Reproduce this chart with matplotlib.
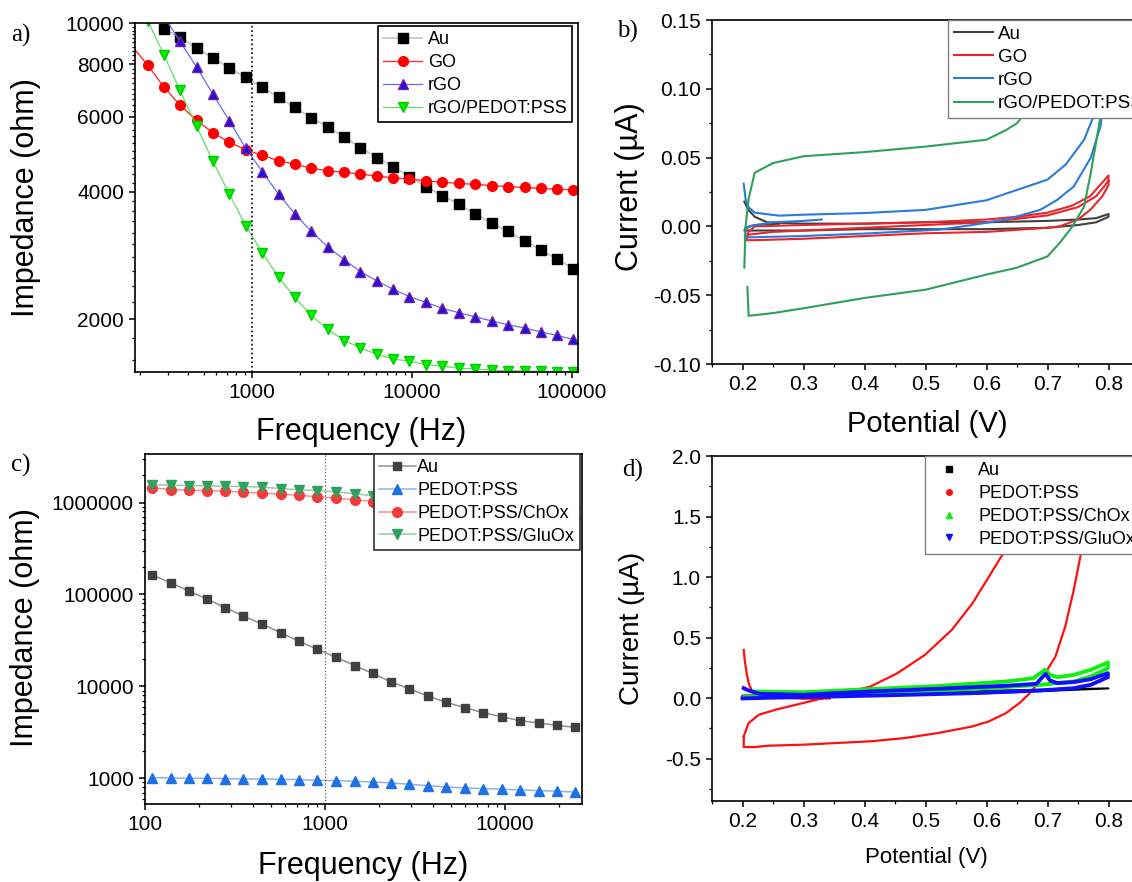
import numpy as np
import matplotlib
matplotlib.use('Agg')
import matplotlib.pyplot as plt
from matplotlib.ticker import FixedLocator, FuncFormatter, MultipleLocator, NullFormatter, LogLocator
from matplotlib.lines import Line2D

plt.rcParams['font.family'] = ['Liberation Sans', 'DejaVu Sans']
plt.rcParams['axes.unicode_minus'] = False

# ---------------- data, panel a (impedance) ----------------
freq_a = [165, 224, 282, 355, 452, 570, 722, 915, 1160, 1470, 1855, 2350, 2985, 3780,
          4760, 6050, 7660, 9640, 12250, 15500, 19630, 24800, 31500, 39900, 50500,
          63700, 80900, 102000]
au_a = [9680, 9250, 8730, 8270, 7830, 7440, 7050, 6670, 6320, 5970, 5680, 5380, 5080,
        4810, 4580, 4340, 4110, 3910, 3740, 3540, 3370, 3220, 3060, 2910, 2770, 2630]
go_a = [9140, 7940, 7060, 6400, 5890, 5510, 5230, 5020, 4870, 4730, 4640, 4540, 4480,
        4440, 4400, 4350, 4310, 4280, 4240, 4210, 4180, 4160, 4130, 4110, 4090, 4070,
        4050, 4040]
rgo_a = [10380, 9050, 7860, 6800, 5880, 5060, 4460, 3940, 3540, 3220, 2960, 2760, 2590,
         2460, 2350, 2260, 2190, 2120, 2070, 2025, 1980, 1940, 1905, 1866, 1830, 1790]
rgo_pedot_a = [10100, 8420, 6930, 5700, 4720, 3950, 3320, 2870, 2510, 2250, 2040, 1890,
               1780, 1710, 1650, 1610, 1590, 1560, 1550, 1530, 1525, 1515, 1510, 1508,
               1505, 1503, 1502]

# ---------------- data, panel b (CV) ----------------
au_b_v = [0.203, 0.21, 0.22, 0.24, 0.3, 0.4, 0.5, 0.6, 0.7, 0.75, 0.78, 0.8,
          0.8, 0.78, 0.75, 0.7, 0.6, 0.5, 0.4, 0.3, 0.25, 0.21, 0.203, 0.205, 0.22, 0.26]
au_b_i = [0.018, 0.012, 0.007, 0.003, 0.002, 0.002, 0.003, 0.003, 0.004, 0.005, 0.006, 0.009,
          0.007, 0.003, 0.001, -0.001, -0.002, -0.002, -0.002, -0.003, -0.003, -0.003,
          -0.003, -0.001, 0.001, 0.002]
go_b_v = [0.205, 0.21, 0.22, 0.3, 0.4, 0.5, 0.6, 0.65, 0.7, 0.74, 0.77, 0.8,
          0.8, 0.79, 0.77, 0.75, 0.72, 0.7, 0.6, 0.5, 0.4, 0.3, 0.22, 0.205,
          0.21, 0.25, 0.4, 0.5, 0.6, 0.7, 0.75, 0.78, 0.8]
go_b_i = [-0.01, -0.004, 0.0, 0.001, 0.002, 0.003, 0.005, 0.007, 0.01, 0.015, 0.022, 0.037,
          0.03, 0.022, 0.012, 0.005, 0.0, -0.001, -0.004, -0.005, -0.007, -0.009, -0.01, -0.01,
          -0.006, -0.004, -0.001, 0.001, 0.003, 0.008, 0.014, 0.022, 0.033]
rgo_b_v = [0.202, 0.205, 0.21, 0.22, 0.26, 0.3, 0.4, 0.5, 0.6, 0.7, 0.73, 0.76, 0.78,
           0.79, 0.8, 0.8, 0.795, 0.787, 0.771, 0.743, 0.715, 0.688, 0.632, 0.577, 0.521,
           0.41, 0.3, 0.204, 0.205, 0.21, 0.25, 0.3, 0.33]
rgo_b_i = [0.031, 0.02, 0.014, 0.01, 0.0078, 0.0085, 0.0097, 0.012, 0.019, 0.034, 0.045,
           0.063, 0.085, 0.1, 0.125, 0.13, 0.1, 0.073, 0.05, 0.029, 0.019, 0.012, 0.005,
           0.001, -0.0024, -0.005, -0.007, -0.008, -0.003, 0.0, 0.003, 0.004, 0.005]
pedot_b_v = [0.203, 0.205, 0.21, 0.22, 0.25, 0.3, 0.4, 0.5, 0.6, 0.632, 0.65, 0.677,
             0.69, 0.7, 0.75, 0.8, 0.8, 0.797, 0.787, 0.771, 0.76, 0.741, 0.72, 0.7,
             0.65, 0.6, 0.5, 0.4, 0.3, 0.25, 0.21, 0.208]
pedot_b_i = [-0.03, 0.0, 0.02, 0.039, 0.046, 0.051, 0.054, 0.058, 0.063, 0.07, 0.075,
             0.09, 0.098, 0.105, 0.13, 0.17, 0.12, 0.091, 0.08, 0.039, 0.0145, 0.0,
             -0.012, -0.0218, -0.03, -0.035, -0.046, -0.052, -0.0595, -0.063, -0.065, -0.044]

# ---------------- data, panel c (impedance) ----------------
freq_c = [110, 139, 175, 221, 280, 352, 448, 567, 720, 907, 1153, 1466, 1845, 2323,
          2938, 3717, 4722, 5980, 7570, 9570, 12100, 15400, 19400, 24500]
au_c = [162000, 134000, 109000, 89000, 71600, 58200, 47600, 38300, 30800, 25300, 20700,
        16800, 13800, 11200, 9430, 7850, 6700, 5860, 5170, 4680, 4240, 3990, 3770, 3580]
pedot_c = [1017, 1008, 1000, 1000, 992, 983, 983, 975, 967, 950, 943, 927, 912, 890,
           861, 833, 805, 785, 772, 759, 747, 735, 722, 710]
chox_c = [1443000, 1384000, 1362000, 1339000, 1328000, 1295000, 1263000, 1232000,
          1201000, 1152000, 1115000, 1069000, 1025000, 985000, 950000, 915000, 880000,
          850000, 820000, 790000, 765000, 740000, 715000, 690000]
gluox_c = [1569000, 1543000, 1530000, 1518000, 1505000, 1492000, 1468000, 1420000,
           1373000, 1350000, 1306000, 1242000, 1182000, 1140000, 1100000, 1060000,
           1020000, 985000, 950000, 915000, 880000, 850000, 820000, 790000]

# ---------------- data, panel d (CV) ----------------
au_d_v = [0.2, 0.4, 0.6, 0.8, 0.6, 0.4, 0.2]
au_d_i = [0.02, 0.04, 0.06, 0.08, 0.04, 0.03, 0.01]
pedot_d_v = [0.202, 0.204, 0.207, 0.21, 0.216, 0.227, 0.254, 0.299, 0.343,
             None,
             0.202, 0.21, 0.227, 0.254, 0.299, 0.354, 0.41, 0.454, 0.499, 0.543, 0.577,
             0.604, 0.624, 0.635, 0.66, 0.7, 0.75, 0.8, 0.79, 0.775, 0.765, 0.757, 0.743,
             0.729, 0.713, 0.693, 0.671, 0.654, 0.632, 0.604, 0.577, 0.521, 0.466, 0.41,
             0.354, 0.299, 0.243, 0.221, 0.202, 0.202]
pedot_d_i = [0.398, 0.3, 0.2, 0.124, 0.055, 0.027, 0.008, -0.005, -0.003,
             None,
             -0.316, -0.206, -0.137, -0.096, -0.041, 0.027, 0.096, 0.206, 0.357, 0.563,
             0.783, 1.003, 1.168, 1.25, 1.6, 2.3, 3.2, 4.2, 3.0, 2.0, 1.5, 1.25, 0.893,
             0.59, 0.343, 0.179, 0.041, -0.041, -0.124, -0.192, -0.234, -0.288, -0.33,
             -0.357, -0.371, -0.385, -0.393, -0.404, -0.404, -0.316]
chox_d_v = [0.221, 0.299, 0.41, 0.521, 0.632, 0.677, 0.688, 0.696, 0.704, 0.716, 0.743,
            0.771, 0.799, 0.799, 0.771, 0.743, 0.688, 0.577, 0.466, 0.354, 0.243, 0.202]
chox_d_i = [0.055, 0.049, 0.074, 0.10, 0.137, 0.165, 0.206, 0.234, 0.192, 0.173, 0.192,
            0.234, 0.294, 0.247, 0.179, 0.137, 0.11, 0.074, 0.047, 0.027, 0.014, 0.008]
gluox_d_v = [0.202, 0.21, 0.227, 0.299, 0.41, 0.521, 0.632, 0.682, 0.69, 0.697, 0.704,
             0.716, 0.743, 0.771, 0.799, 0.799, 0.771, 0.743, 0.688, 0.577, 0.466, 0.354,
             0.243, 0.2]
gluox_d_i = [0.082, 0.063, 0.036, 0.027, 0.055, 0.077, 0.102, 0.118, 0.165, 0.2, 0.146,
             0.124, 0.132, 0.157, 0.206, 0.173, 0.11, 0.082, 0.063, 0.041, 0.027, 0.014,
             0.003, -0.003]

W, H = 1132, 882


def box(left, top, right, bottom):
    return [left / W, 1 - bottom / H, (right - left) / W, (bottom - top) / H]


def int_fmt(v, p):
    return f'{v:.0f}'


fig = plt.figure(figsize=(W / 100, H / 100), dpi=100)

ax_a = fig.add_axes(box(135, 23, 578, 372))
ax_b = fig.add_axes(box(712, 20, 1139, 364))
ax_c = fig.add_axes(box(145, 454, 582, 804))
ax_d = fig.add_axes(box(712, 456, 1139, 801))

for ax in (ax_a, ax_b, ax_c, ax_d):
    for s in ax.spines.values():
        s.set_linewidth(1.2)
    ax.tick_params(which='major', direction='out', length=4.5, width=1.1, labelsize=15,
                   top=False, right=False)
    ax.tick_params(which='minor', direction='out', length=2.5, width=0.9,
                   top=False, right=False)

# ---------------- panel a ----------------
ax_a.set_xscale('log')
ax_a.set_yscale('log')
ax_a.plot(freq_a[2:], au_a, '-', color='#c8c8c8', lw=1.3, marker='s', ms=6.5,
          mfc='black', mec='black', label='Au')
ax_a.plot(freq_a, go_a, '-', color='#ff3030', lw=1.0, marker='o', ms=7,
          mfc='#ff0000', mec='#ff0000', label='GO')
ax_a.plot(freq_a[2:], rgo_a, '-', color='#6a6aff', lw=0.9, marker='^', ms=7.5,
          mfc='#1a10e0', mec='#7a20a0', label='rGO')
ax_a.plot(freq_a[1:], rgo_pedot_a, '-', color='#60e060', lw=0.9, marker='v', ms=7.5,
          mfc='#00ee00', mec='#00cc00', label='rGO/PEDOT:PSS')
ax_a.axvline(1000, color='black', ls=':', lw=1.2)
ax_a.set_xlim(186, 109000)
ax_a.set_ylim(1500, 10000)
ax_a.xaxis.set_major_locator(FixedLocator([1000, 10000, 100000]))
ax_a.xaxis.set_major_formatter(FuncFormatter(int_fmt))
ax_a.xaxis.set_minor_locator(LogLocator(base=10, subs=np.arange(2, 10)))
ax_a.xaxis.set_minor_formatter(NullFormatter())
ax_a.yaxis.set_major_locator(FixedLocator([2000, 4000, 6000, 8000, 10000]))
ax_a.yaxis.set_major_formatter(FuncFormatter(int_fmt))
ax_a.yaxis.set_minor_locator(FixedLocator(np.arange(1600, 10000, 200)))
ax_a.yaxis.set_minor_formatter(NullFormatter())
ax_a.set_xlabel('Frequency (Hz)', fontsize=22, va='center')
ax_a.set_ylabel('Impedance (ohm)', fontsize=22, va='center')
ax_a.xaxis.set_label_coords(0.51, -0.172)
ax_a.yaxis.set_label_coords(-0.246, 0.5)
leg = ax_a.legend(loc='upper left', bbox_to_anchor=(0.549, 0.99), fontsize=13,
                  frameon=True, fancybox=False, framealpha=1, edgecolor='black',
                  handlelength=2.2, handletextpad=0.3, labelspacing=0.34,
                  borderpad=0.25, borderaxespad=0)
leg.get_frame().set_linewidth(1.2)

# ---------------- panel b ----------------
ax_b.plot(au_b_v, au_b_i, color='#404040', lw=1.5, label='Au')
ax_b.plot(go_b_v, go_b_i, color='#e8262b', lw=1.5, label='GO')
ax_b.plot(rgo_b_v, rgo_b_i, color='#2a7ae0', lw=1.5, label='rGO')
ax_b.plot(pedot_b_v, pedot_b_i, color='#2ea05a', lw=1.5, label='rGO/PEDOT:PSS')
ax_b.set_xlim(0.15, 0.85)
ax_b.set_ylim(-0.10, 0.15)
ax_b.xaxis.set_major_locator(MultipleLocator(0.1))
ax_b.xaxis.set_minor_locator(MultipleLocator(0.05))
ax_b.xaxis.set_major_formatter(FuncFormatter(lambda v, p: f'{v:.1f}'))
ax_b.yaxis.set_major_locator(MultipleLocator(0.05))
ax_b.yaxis.set_minor_locator(MultipleLocator(0.025))
ax_b.yaxis.set_major_formatter(FuncFormatter(lambda v, p: f'{v:.2f}'))
ax_b.set_xlabel('Potential (V)', fontsize=21, va='center')
ax_b.set_ylabel('Current (\u00b5A)', fontsize=22, va='center')
ax_b.xaxis.set_label_coords(0.503, -0.174)
ax_b.yaxis.set_label_coords(-0.192, 0.515)
leg = ax_b.legend(loc='upper left', bbox_to_anchor=(0.553, 1.0), fontsize=13.5,
                  frameon=True, fancybox=False, framealpha=1, edgecolor='#808080',
                  handlelength=2.1, handletextpad=0.25, labelspacing=0.32,
                  borderpad=0.3, borderaxespad=0)
leg.get_frame().set_linewidth(1.0)

# ---------------- panel c ----------------
ax_c.set_xscale('log')
ax_c.set_yscale('log')
ax_c.plot(freq_c, au_c, '-', color='#909090', lw=1.1, marker='s', ms=6,
          mfc='#404040', mec='#404040', label='Au')
ax_c.plot(freq_c, pedot_c, '-', color='#8ab4f0', lw=1.1, marker='^', ms=7,
          mfc='#1f6fe5', mec='#1f6fe5', label='PEDOT:PSS')
ax_c.plot(freq_c, chox_c, '-', color='#f39090', lw=1.1, marker='o', ms=7,
          mfc='#f23c3c', mec='#f23c3c', label='PEDOT:PSS/ChOx')
ax_c.plot(freq_c, gluox_c, '-', color='#90d0a8', lw=1.1, marker='v', ms=7,
          mfc='#2fa060', mec='#2fa060', label='PEDOT:PSS/GluOx')
ax_c.axvline(1000, color='#606060', ls=':', lw=0.9)
ax_c.set_xlim(100, 26800)
ax_c.set_ylim(525, 3.37e6)
ax_c.xaxis.set_major_locator(FixedLocator([100, 1000, 10000]))
ax_c.xaxis.set_major_formatter(FuncFormatter(int_fmt))
ax_c.xaxis.set_minor_locator(LogLocator(base=10, subs=np.arange(2, 10)))
ax_c.xaxis.set_minor_formatter(NullFormatter())
ax_c.yaxis.set_major_locator(FixedLocator([1000, 10000, 100000, 1000000]))
ax_c.yaxis.set_major_formatter(FuncFormatter(int_fmt))
ax_c.yaxis.set_minor_locator(LogLocator(base=10, subs=np.arange(2, 10)))
ax_c.yaxis.set_minor_formatter(NullFormatter())
ax_c.set_xlabel('Frequency (Hz)', fontsize=22, va='center')
ax_c.set_ylabel('Impedance (ohm)', fontsize=22, va='center')
ax_c.xaxis.set_label_coords(0.499, -0.177)
ax_c.yaxis.set_label_coords(-0.275, 0.503)
leg = ax_c.legend(loc='upper left', bbox_to_anchor=(0.524, 1.0), fontsize=13,
                  frameon=True, fancybox=False, framealpha=1, edgecolor='#303030',
                  handlelength=2.0, handletextpad=0.1, labelspacing=0.32,
                  borderpad=0.3, borderaxespad=0)
leg.get_frame().set_linewidth(1.2)

# ---------------- panel d ----------------
ax_d.plot(au_d_v, au_d_i, color='black', lw=1.5)
ax_d.plot([np.nan if v is None else v for v in pedot_d_v],
          [np.nan if v is None else v for v in pedot_d_i], color='#ff1010', lw=1.6)
ax_d.plot(chox_d_v, chox_d_i, color='#10f010', lw=2.8)
ax_d.plot(gluox_d_v, gluox_d_i, color='#1010ff', lw=2.8)
ax_d.set_xlim(0.15, 0.85)
ax_d.set_ylim(-0.85, 2.0)
ax_d.xaxis.set_major_locator(MultipleLocator(0.1))
ax_d.xaxis.set_minor_locator(MultipleLocator(0.05))
ax_d.xaxis.set_major_formatter(FuncFormatter(lambda v, p: f'{v:.1f}'))
ax_d.yaxis.set_major_locator(FixedLocator([-0.5, 0.0, 0.5, 1.0, 1.5, 2.0]))
ax_d.yaxis.set_minor_locator(FixedLocator([-0.75, -0.25, 0.25, 0.75, 1.25, 1.75]))
ax_d.yaxis.set_major_formatter(FuncFormatter(lambda v, p: f'{v:.1f}'))
ax_d.set_xlabel('Potential (V)', fontsize=16, va='center')
ax_d.set_ylabel('Current (\u00b5A)', fontsize=20, va='center')
ax_d.xaxis.set_label_coords(0.503, -0.165)
ax_d.yaxis.set_label_coords(-0.187, 0.501)
handles = [Line2D([], [], ls='none', marker='s', ms=4, color='black'),
           Line2D([], [], ls='none', marker='o', ms=4, color='#ff1010'),
           Line2D([], [], ls='none', marker='^', ms=5, color='#10f010'),
           Line2D([], [], ls='none', marker='v', ms=5, color='#1010ff')]
leg = ax_d.legend(handles, ['Au', 'PEDOT:PSS', 'PEDOT:PSS/ChOx', 'PEDOT:PSS/GluOx'],
                  loc='upper left', bbox_to_anchor=(0.499, 1.0), fontsize=13,
                  frameon=True, fancybox=False, framealpha=1, edgecolor='#808080',
                  handlelength=2.0, handletextpad=0.6, labelspacing=0.32,
                  borderpad=0.35, borderaxespad=0)
leg.get_frame().set_linewidth(1.0)

# panel letters
for txt, x, y in [('a)', 11, 35), ('b)', 617, 31), ('c)', 11, 465), ('d)', 622, 470)]:
    fig.text(x / W, 1 - y / H, txt, fontsize=18, family='Liberation Serif',
             ha='left', va='center')

fig.savefig('out.png', dpi=100)
